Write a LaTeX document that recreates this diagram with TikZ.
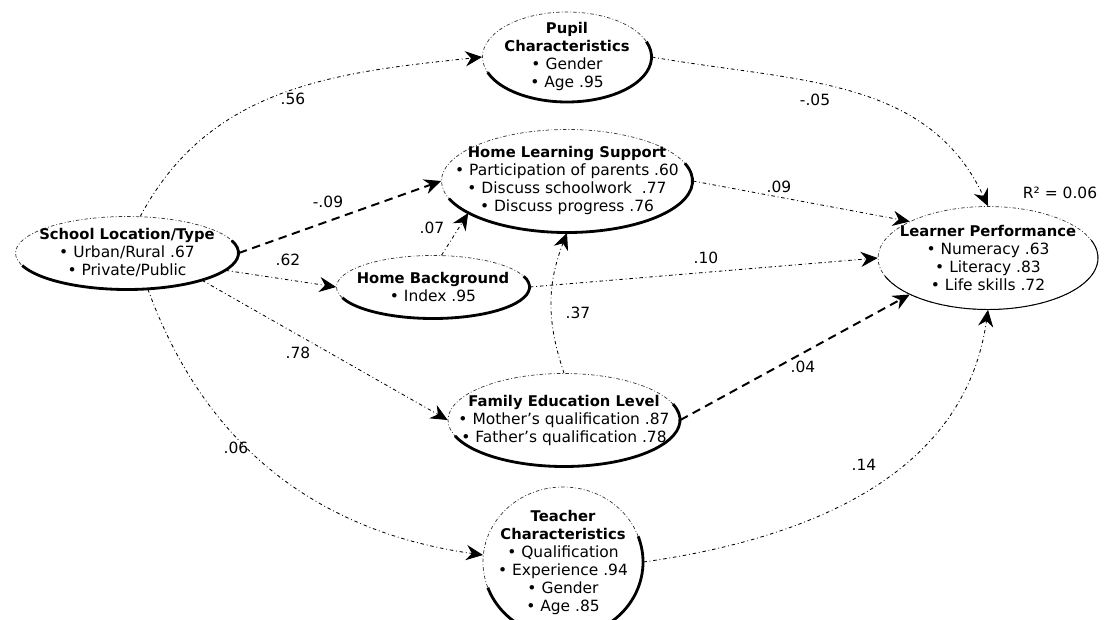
\documentclass[tikz,border=0pt]{standalone}
\usepackage{fontspec}
\setmainfont{DejaVu Sans}
\usetikzlibrary{arrows.meta,shapes.geometric}

\newcommand{\upx}{0.025cm}
\newcommand{\ttl}[1]{{\fontsize{10.5}{12.8}\selectfont\bfseries #1}}
% latent construct: [rim style]{name}{x}{y}{width}{height}{text}
\newcommand{\construct}[7][rim]{%
  \node[latent, minimum width=#5*\upx, minimum height=#6*\upx] (#2) at (#3,#4) {};
  \node[ctext] (#2-txt) at (#2.center) {#7};
  \draw[#1] (#2.center) ++(200:{#5/2} and {#6/2})
    arc[start angle=200, end angle=380, x radius=#5/2, y radius=#6/2];
}

\begin{document}
\begin{tikzpicture}[
  x=\upx, y=\upx,
  latent/.style={ellipse, draw=black!80, line width=0.5pt, dash pattern=on 2.5pt off 1.5pt on 0.6pt off 1.5pt, inner sep=0pt},
  ctext/.style={align=center, font=\fontsize{11}{12.8}\selectfont, inner sep=0pt},
  rim/.style={line width=2pt, black},
  thinrim/.style={line width=0.7pt, black},
  val/.style={font=\fontsize{11}{12.8}\selectfont, inner sep=1pt},
  link/.style={-{Stealth[length=4.2mm, width=3.8mm, inset=1.4mm]}, line width=0.6pt, dash pattern=on 2.5pt off 2pt on 0.6pt off 2pt},
  dlink/.style={-{Stealth[length=4.2mm, width=3.8mm, inset=1.4mm]}, line width=1.4pt, dash pattern=on 6pt off 4pt}
]
\useasboundingbox (0,0) rectangle (1109,619);

% constructs
\construct{pupil}{567}{562}{169}{90}{\ttl{Pupil}\\ \ttl{Characteristics}\\ • Gender\\ • Age .95}
\construct{hls}{567}{438}{251}{103}{\ttl{Home Learning Support}\\ • Participation of parents .60\\ • Discuss schoolwork\ \ .77\\ • Discuss progress .76}
\construct{school}{127}{366}{223}{73}{\ttl{School Location/Type}\\ • Urban/Rural .67\\ • Private/Public}
\construct{hb}{433}{332}{193}{63}{\ttl{Home Background}\\ • Index .95}
\construct[thinrim]{learner}{988}{361}{220}{103}{\ttl{Learner Performance}\\ • Numeracy .63\\ • Literacy .83\\ • Life skills .72}
\construct{fel}{564}{199}{232}{93}{\ttl{Family Education Level}\\ • Mother's qualification .87\\ • Father's qualification .78}
\construct{teacher}{563}{57}{160}{150}{\ttl{Teacher}\\ \ttl{Characteristics}\\ • Qualification\\ • Experience .94\\ • Gender\\ • Age .85}

\node[val] (rsq) at (1060,426) {R² = 0.06};

% paths
\draw[link] (school.70) to[out=62, in=186] (pupil.west);
\draw[link] (pupil.east) to[out=-10, in=115] (learner.north);
\draw[dlink] (school.east) -- (hls.west);
\draw[link] (hls.east) -- (learner.155);
\draw[link] (hb.75) -- (hls.198);
\draw[link] (fel.north) to[bend left=20] (hls.south);
\draw[link] (school.-10) -- (hb.west);
\draw[link] (hb.east) -- (learner.west);
\draw[link] (school.-20) -- (fel.west);
\draw[dlink] (fel.east) -- (learner.205);
\draw[link] (school.-60) to[out=-70, in=172] (teacher.175);
\draw[link] (teacher.east) to[out=8, in=-98] (learner.south);

% coefficients
\node[val] (v56) at (293,520) {.56};
\node[val] (v05) at (815,519) {-.05};
\node[val] (v09a) at (328,417) {-.09};
\node[val] (v09b) at (779,432) {.09};
\node[val] (v07) at (432,391) {.07};
\node[val] (v62) at (288,359) {.62};
\node[val] (v10) at (706,361) {.10};
\node[val] (v37) at (578,306) {.37};
\node[val] (v78) at (298,266) {.78};
\node[val] (v04) at (803,252) {.04};
\node[val] (v06) at (236,171) {.06};
\node[val] (v14) at (864,154) {.14};
\end{tikzpicture}
\end{document}
